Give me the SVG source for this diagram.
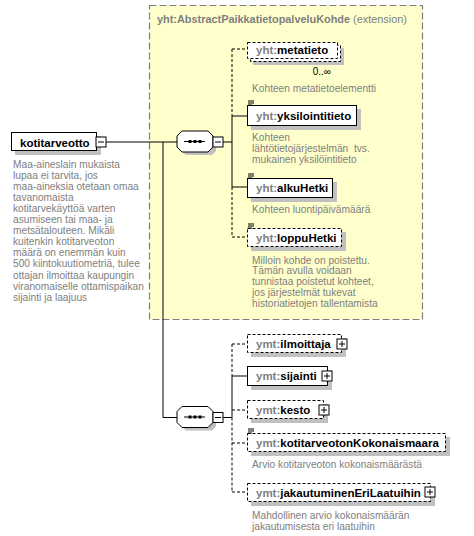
<svg xmlns="http://www.w3.org/2000/svg" width="474" height="536" viewBox="0 0 474 536">
<defs>
<style>
.ext{fill:#FFFFCC;stroke:#808080;stroke-width:1.2;stroke-dasharray:7,3}
.shadow{fill:#C0C0C0;stroke:none}
.box{fill:#FFFFFF;stroke:#000000;stroke-width:1}
.opt{fill:#FFFFFF;stroke:#000000;stroke-width:1;stroke-dasharray:3,2}
.ln{fill:none;stroke:#000000;stroke-width:1}
.dl{fill:none;stroke:#000000;stroke-width:1;stroke-dasharray:3,2}
.nm{font-family:"Liberation Sans",Arial,sans-serif;font-size:11.5px;font-weight:bold;fill:#000000}
.px{fill:#808080}
.ds{font-family:"Liberation Sans",Arial,sans-serif;font-size:10.2px;fill:#808080}
.ttl{font-family:"Liberation Sans",Arial,sans-serif;font-size:10.9px;fill:#808080}
.occ{font-family:"Liberation Sans",Arial,sans-serif;font-size:10px;fill:#000000}
</style>
<g id="plus"><rect x="0" y="0" width="10" height="10" fill="#FFFFFF" stroke="#000000"/><path d="M2 5H8M5 2V8" stroke="#000000" fill="none"/></g>
<g id="minus"><rect x="0" y="0" width="10" height="10" fill="#FFFFFF" stroke="#000000"/><path d="M2 5H8" stroke="#000000" fill="none"/></g>
<g id="simple"><path d="M1 0.5H7M1 2.5H7M1 4.5H5" stroke="#000000" fill="none"/></g>
<g id="seq">
<polygon class="shadow" points="9,4 35,4 39,9 39,20 35,24 9,24 4,20 4,9"/>
<polygon points="5,0 31,0 36,5 36,16 31,21 5,21 0,16 0,5" fill="#FFFFFF" stroke="#000000"/>
<path d="M7 10.5H28" stroke="#000000" fill="none"/>
<rect x="11.5" y="9" width="3" height="3" fill="#000000"/>
<rect x="16.5" y="9" width="3" height="3" fill="#000000"/>
<rect x="21.5" y="9" width="3" height="3" fill="#000000"/>
</g>
</defs>

<rect id="extension" class="ext" x="149.5" y="5.5" width="273" height="314"/>
<text class="ttl" x="157" y="23"><tspan font-weight="bold">yht:AbstractPaikkatietopalveluKohde</tspan> (extension)</text>

<g id="connectors">
<path class="ln" d="M106 142H177M163 142V417.5H177"/>
<path class="ln" d="M223 142H232"/>
<path class="dl" d="M232 49V116M232 187V237"/>
<path class="ln" d="M232 116V187"/>
<path class="dl" d="M232 49H247M232 237H247"/>
<path class="ln" d="M232 116H247M232 187H247"/>
<path class="ln" d="M223 417.5H232"/>
<path class="dl" d="M232 344V376M232 417.5V492"/>
<path class="ln" d="M232 376V417.5"/>
<path class="dl" d="M232 344H247M232 410H247M232 443H247M232 492H247"/>
<path class="ln" d="M232 376H247"/>
</g>

<g id="kotitarveotto">
<rect class="shadow" x="15" y="136" width="86" height="19"/>
<rect class="box" x="11.5" y="132.5" width="85" height="18"/>
<text class="nm" x="20" y="146.5">kotitarveotto</text>
<use href="#minus" x="96" y="137"/>
<text class="ds">
<tspan x="13" y="167.5">Maa-aineslain mukaista</tspan>
<tspan x="13" y="178.6">lupaa ei tarvita, jos</tspan>
<tspan x="13" y="189.7">maa-aineksia otetaan omaa</tspan>
<tspan x="13" y="200.8">tavanomaista</tspan>
<tspan x="13" y="211.9">kotitarvekäyttöä varten</tspan>
<tspan x="13" y="223">asumiseen tai maa- ja</tspan>
<tspan x="13" y="234.1">metsätalouteen. Mikäli</tspan>
<tspan x="13" y="245.2">kuitenkin kotitarveoton</tspan>
<tspan x="13" y="256.3">määrä on enemmän kuin</tspan>
<tspan x="13" y="267.4">500 kiintokuutiometriä, tulee</tspan>
<tspan x="13" y="278.5">ottajan ilmoittaa kaupungin</tspan>
<tspan x="13" y="289.6">viranomaiselle ottamispaikan</tspan>
<tspan x="13" y="300.7">sijainti ja laajuus</tspan>
</text>
</g>

<g id="sequence1">
<use href="#seq" x="177" y="131"/>
<use href="#minus" x="213" y="137"/>
</g>

<g id="metatieto">
<rect class="shadow" x="253" y="48" width="91" height="17"/>
<rect class="opt" x="250.5" y="45.5" width="90" height="16"/>
<rect class="opt" x="247.5" y="42.5" width="90" height="16"/>
<text class="nm" x="256" y="53.5"><tspan class="px">yht:</tspan>metatieto</text>
<text class="occ" x="331" y="75" text-anchor="end">0..∞</text>
<text class="ds" x="252" y="91.5">Kohteen metatietoelementti</text>
</g>

<g id="yksilointitieto">
<rect class="shadow" x="251" y="109" width="110" height="21"/>
<rect class="box" x="247.5" y="105.5" width="109" height="20"/>
<use href="#simple" x="247" y="100.5"/>
<text class="nm" x="256" y="120"><tspan class="px">yht:</tspan>yksilointitieto</text>
<text class="ds" xml:space="preserve"><tspan x="252" y="140.5">Kohteen</tspan><tspan x="252" y="151.5">lähtötietojärjestelmän  tvs.</tspan><tspan x="252" y="162.5">mukainen yksilöintitieto</tspan></text>
</g>

<g id="alkuHetki">
<rect class="shadow" x="251" y="182" width="86" height="20"/>
<rect class="box" x="247.5" y="178.5" width="85" height="19"/>
<use href="#simple" x="247" y="173.5"/>
<text class="nm" x="256" y="192"><tspan class="px">yht:</tspan>alkuHetki</text>
<text class="ds" x="252" y="212.5">Kohteen luontipäivämäärä</text>
</g>

<g id="loppuHetki">
<rect class="shadow" x="251" y="232" width="95" height="19"/>
<rect class="opt" x="247.5" y="228.5" width="94" height="18"/>
<use href="#simple" x="247" y="223.5"/>
<text class="nm" x="256" y="241.5"><tspan class="px">yht:</tspan>loppuHetki</text>
<text class="ds">
<tspan x="252" y="263.5">Milloin kohde on poistettu.</tspan>
<tspan x="252" y="274.3">Tämän avulla voidaan</tspan>
<tspan x="252" y="285.1">tunnistaa poistetut kohteet,</tspan>
<tspan x="252" y="295.9">jos järjestelmät tukevat</tspan>
<tspan x="252" y="306.7">historiatietojen tallentamista</tspan>
</text>
</g>

<g id="sequence2">
<use href="#seq" x="177" y="406.5"/>
<use href="#minus" x="213" y="412.5"/>
</g>

<g id="ilmoittaja">
<rect class="shadow" x="251" y="338" width="95" height="19"/>
<rect class="opt" x="247.5" y="334.5" width="94" height="18"/>
<use href="#plus" x="337" y="339"/>
<text class="nm" x="256" y="348"><tspan class="px">ymt:</tspan>ilmoittaja</text>
</g>

<g id="sijainti">
<rect class="shadow" x="251" y="370" width="81" height="20"/>
<rect class="box" x="247.5" y="366.5" width="80" height="19"/>
<use href="#plus" x="322" y="371"/>
<text class="nm" x="256" y="380"><tspan class="px">ymt:</tspan>sijainti</text>
</g>

<g id="kesto">
<rect class="shadow" x="251" y="404" width="77" height="19"/>
<rect class="opt" x="247.5" y="400.5" width="76" height="18"/>
<use href="#plus" x="319" y="405"/>
<text class="nm" x="256" y="414"><tspan class="px">ymt:</tspan>kesto</text>
</g>

<g id="kotitarveotonKokonaismaara">
<rect class="shadow" x="251" y="437" width="199" height="19"/>
<rect class="opt" x="247.5" y="433.5" width="198" height="18"/>
<use href="#simple" x="247" y="428.5"/>
<text class="nm" x="256" y="447"><tspan class="px">ymt:</tspan>kotitarveotonKokonaismaara</text>
<text class="ds" x="252" y="467.5">Arvio kotitarveoton kokonaismäärästä</text>
</g>

<g id="jakautuminenEriLaatuihin">
<rect class="shadow" x="251" y="487" width="184" height="19"/>
<rect class="opt" x="247.5" y="483.5" width="183" height="18"/>
<use href="#plus" x="425" y="487"/>
<text class="nm" x="256" y="497"><tspan class="px">ymt:</tspan>jakautuminenEriLaatuihin</text>
<text class="ds"><tspan x="252" y="518.5">Mahdollinen arvio kokonaismäärän</tspan><tspan x="252" y="529.5">jakautumisesta eri laatuihin</tspan></text>
</g>
</svg>
